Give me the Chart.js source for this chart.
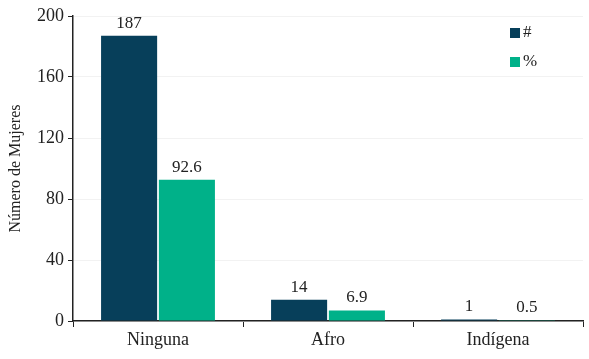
<!DOCTYPE html>
<html>
<head>
<meta charset="utf-8">
<script src="https://cdn.jsdelivr.net/npm/chart.js@4.4.1/dist/chart.umd.min.js"></script>
<style>
  html, body { margin: 0; padding: 0; background: #fff; }
  #wrap { width: 589px; height: 359px; }
</style>
</head>
<body>
<div id="wrap"><canvas id="grafico"></canvas></div>
<script>
// Datos del gráfico
const categorias = ["Ninguna", "Afro", "Indígena"];
const cantidad = [187, 14, 1];
const porcentaje = [92.6, 6.9, 0.5];
const ticksY = [0, 40, 80, 120, 160, 200];

const AZUL = "#073f5a";
const VERDE = "#00b189";
const FUENTE = "'Liberation Serif', 'DejaVu Serif', serif";

// Etiquetas de valor encima de cada barra
const etiquetas = {
  id: "etiquetas",
  afterDatasetsDraw(chart) {
    const ctx = chart.ctx;
    ctx.save();
    ctx.font = "17px " + FUENTE;
    ctx.fillStyle = "#222";
    ctx.textAlign = "center";
    ctx.textBaseline = "bottom";
    chart.data.datasets.forEach((ds, i) => {
      chart.getDatasetMeta(i).data.forEach((bar, j) => {
        ctx.fillText(String(ds.data[j]), bar.x, bar.y - 4);
      });
    });
    ctx.restore();
  }
};

// Leyenda vertical dentro del área del gráfico
const leyenda = {
  id: "leyenda",
  afterDraw(chart) {
    const ctx = chart.ctx;
    ctx.save();
    ctx.font = "17px " + FUENTE;
    ctx.textBaseline = "middle";
    chart.data.datasets.forEach((ds, i) => {
      const y = 33 + i * 29;
      ctx.fillStyle = ds.backgroundColor;
      ctx.fillRect(510, y - 5, 10, 10);
      ctx.fillStyle = "#222";
      ctx.fillText(ds.label, 523, y);
    });
    ctx.restore();
  }
};

new Chart(document.getElementById("grafico"), {
  type: "bar",
  data: {
    labels: categorias,
    datasets: [
      { label: "#", data: cantidad, backgroundColor: AZUL },
      { label: "%", data: porcentaje, backgroundColor: VERDE }
    ]
  },
  options: {
    responsive: true,
    maintainAspectRatio: false,
    animation: false,
    layout: { padding: { top: 16, right: 6, left: 0, bottom: 0 } },
    datasets: {
      bar: { categoryPercentage: 0.68, barPercentage: 0.97 }
    },
    plugins: {
      legend: { display: false },
      tooltip: { enabled: false }
    },
    scales: {
      x: {
        afterFit(s) { s.height = 38; },
        grid: {
          display: true,
          drawOnChartArea: false,
          offset: true,
          tickLength: 6,
          color: "#222"
        },
        border: { color: "#222", width: 1.5 },
        ticks: {
          color: "#222",
          font: { family: FUENTE, size: 18 },
          padding: 2
        }
      },
      y: {
        min: 0,
        max: 200,
        afterFit(s) { s.width = 73; },
        afterBuildTicks(s) { s.ticks = ticksY.map(v => ({ value: v })); },
        grid: {
          color: "#f2f2f2",
          tickColor: "#222",
          tickLength: 5
        },
        border: { color: "#222", width: 1.5 },
        ticks: {
          color: "#222",
          font: { family: FUENTE, size: 18 },
          padding: 4
        },
        title: {
          display: true,
          text: "Número de Mujeres",
          color: "#222",
          font: { family: FUENTE, size: 16 },
          padding: { top: 6, bottom: 2 }
        }
      }
    }
  },
  plugins: [etiquetas, leyenda]
});
</script>
</body>
</html>
